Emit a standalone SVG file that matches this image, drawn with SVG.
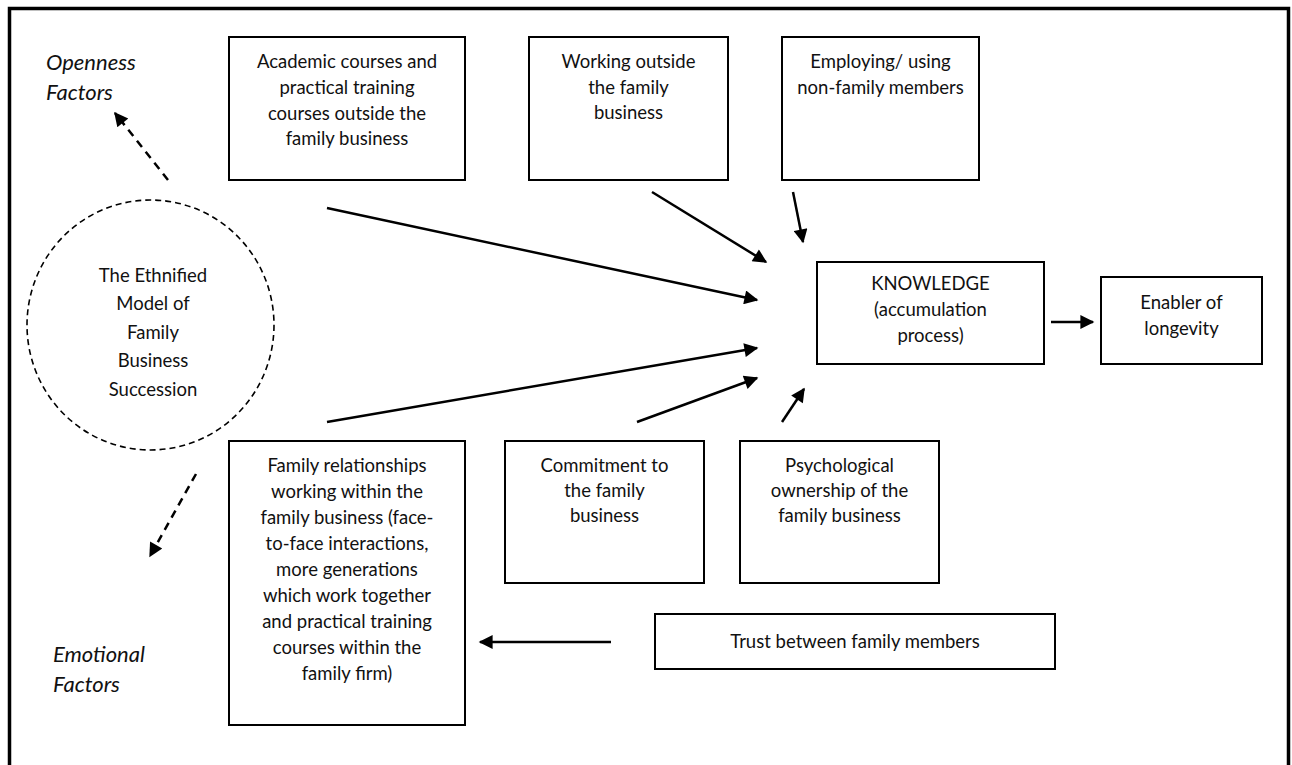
<svg xmlns="http://www.w3.org/2000/svg" width="1292" height="765" viewBox="0 0 1292 765">
<style>
.box{fill:#fff;stroke:#000;stroke-width:2}
.t{font-family:Lato,"Open Sans",sans-serif;font-size:18.5px;fill:#111;text-anchor:middle}
.it{font-family:Lato,"Open Sans",sans-serif;font-size:22px;font-style:italic;fill:#111}
.arr{stroke:#000;stroke-width:2.5;fill:none;marker-end:url(#ah)}
.darr{stroke:#000;stroke-width:2.5;fill:none;stroke-dasharray:8 6;marker-end:url(#ah)}
</style>
<defs>
<marker id="ah" viewBox="0 0 10 10" refX="9" refY="5" markerWidth="6.5" markerHeight="5.6" markerUnits="strokeWidth" orient="auto">
<path d="M0,0 L10,5 L0,10 z" fill="#000"/>
</marker>
</defs>
<rect width="1292" height="765" fill="#fff"/>
<path d="M9.5,770 V8.5 H1288.5 V770" fill="none" stroke="#000" stroke-width="3.5"/>

<g id="openness">
<text class="it" x="46" y="70">Openness</text>
<text class="it" x="46" y="100">Factors</text>
</g>
<g id="emotional">
<text class="it" x="53" y="662">Emotional</text>
<text class="it" x="53" y="692">Factors</text>
</g>

<g id="model">
<ellipse cx="150.5" cy="325" rx="123.5" ry="125" fill="none" stroke="#000" stroke-width="1.6" stroke-dasharray="6 4"/>
<text class="t" x="153" y="282">The Ethnified</text>
<text class="t" x="153" y="310">Model of</text>
<text class="t" x="153" y="339">Family</text>
<text class="t" x="153" y="367">Business</text>
<text class="t" x="153" y="396">Succession</text>
</g>

<g id="academic">
<rect class="box" x="229" y="37" width="236" height="143"/>
<text class="t" x="347" y="68">Academic courses and</text>
<text class="t" x="347" y="94">practical training</text>
<text class="t" x="347" y="120">courses outside the</text>
<text class="t" x="347" y="145">family business</text>
</g>

<g id="working">
<rect class="box" x="529" y="37" width="199" height="143"/>
<text class="t" x="628.5" y="68">Working outside</text>
<text class="t" x="628.5" y="94">the family</text>
<text class="t" x="628.5" y="119">business</text>
</g>

<g id="employing">
<rect class="box" x="782" y="37" width="197" height="143"/>
<text class="t" x="880.5" y="68">Employing/ using</text>
<text class="t" x="880.5" y="94">non-family members</text>
</g>

<g id="knowledge">
<rect class="box" x="817" y="262" width="227" height="102"/>
<text class="t" x="930.5" y="290">KNOWLEDGE</text>
<text class="t" x="930.5" y="316">(accumulation</text>
<text class="t" x="930.5" y="342">process)</text>
</g>

<g id="enabler">
<rect class="box" x="1101" y="277" width="161" height="87"/>
<text class="t" x="1181.5" y="309">Enabler of</text>
<text class="t" x="1181.5" y="335">longevity</text>
</g>

<g id="family">
<rect class="box" x="229" y="441" width="236" height="284"/>
<text class="t" x="347" y="472">Family relationships</text>
<text class="t" x="347" y="498">working within the</text>
<text class="t" x="347" y="524">family business (face-</text>
<text class="t" x="347" y="550">to-face interactions,</text>
<text class="t" x="347" y="576">more generations</text>
<text class="t" x="347" y="602">which work together</text>
<text class="t" x="347" y="628">and practical training</text>
<text class="t" x="347" y="654">courses within the</text>
<text class="t" x="347" y="680">family firm)</text>
</g>

<g id="commitment">
<rect class="box" x="505" y="441" width="199" height="142"/>
<text class="t" x="604.5" y="472">Commitment to</text>
<text class="t" x="604.5" y="497">the family</text>
<text class="t" x="604.5" y="522">business</text>
</g>

<g id="psychological">
<rect class="box" x="740" y="441" width="199" height="142"/>
<text class="t" x="839.5" y="472">Psychological</text>
<text class="t" x="839.5" y="497">ownership of the</text>
<text class="t" x="839.5" y="522">family business</text>
</g>

<g id="trust">
<rect class="box" x="655" y="614" width="400" height="55"/>
<text class="t" x="855" y="648">Trust between family members</text>
</g>

<g id="connectors">
<line class="darr" x1="168" y1="180" x2="115" y2="113"/>
<line class="darr" x1="196" y1="474" x2="150" y2="556"/>
<line class="arr" x1="327" y1="208" x2="757" y2="300"/>
<line class="arr" x1="327" y1="422" x2="757" y2="348"/>
<line class="arr" x1="652" y1="192" x2="766" y2="262"/>
<line class="arr" x1="793" y1="192" x2="803" y2="242"/>
<line class="arr" x1="637" y1="422" x2="757" y2="378"/>
<line class="arr" x1="782" y1="422" x2="804" y2="389"/>
<line class="arr" x1="1051" y1="322" x2="1093" y2="322"/>
<line class="arr" x1="611" y1="642" x2="480" y2="642"/>
</g>
</svg>
